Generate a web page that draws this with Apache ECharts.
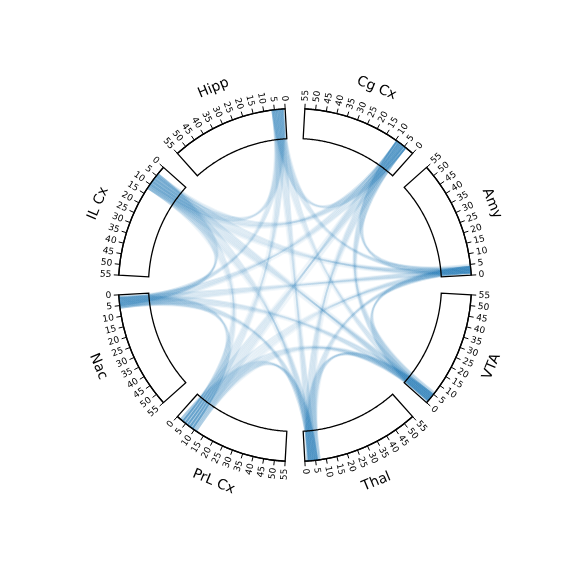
<!DOCTYPE html>
<html><head><meta charset="utf-8">
<script src="https://cdn.jsdelivr.net/npm/echarts@6/dist/echarts.min.js"></script>
<style>html,body{margin:0;padding:0;background:#fff}#c{width:576px;height:576px}</style>
</head><body><div id="c"></div>
<script>
// ---- data ----
const regions = ['Hipp', 'IL Cx', 'Nac', 'PrL Cx', 'Thal', 'VTA', 'Amy', 'Cg Cx'];
const hubStart = [1, 4, 1, 2, 1, 0.5, 0.5, 3];
const hubEnd   = [6, 12, 6, 11, 7, 6, 5, 11];
const tickValues = [0, 5, 10, 15, 20, 25, 30, 35, 40, 45, 50, 55];
const linkSource = [0,0,0,0,0,0,0, 1,1,1,1,1,1, 2,2,2,2,2, 3,3,3,3, 4,4,4, 5,5, 6];
const linkTarget = [1,2,3,4,5,6,7, 2,3,4,5,6,7, 3,4,5,6,7, 4,5,6,7, 5,6,7, 6,7, 7];
const linkWeight = [4,4,5,5,4,4,4, 5,5,6,7,6,6, 5,5,5,5,5, 6,6,5,7, 6,5,6, 5,6, 5];

// ---- layout / style ----
const CX = 295, CY = 285, R_IN = 146.5, R_OUT = 176.5, R_LAB = 184, R_NAME = 213;
const GAP = 3.2, SPAN = 45 - 2 * GAP;
const FONT = 'DejaVu Sans';

const chart = echarts.init(document.getElementById('c'), null, {renderer: 'canvas'});

const polar = [], angleAxis = [], radiusAxis = [], series = [];

// links (drawn first, below the blocks)
series.push({
  type: 'custom', coordinateSystem: 'none', silent: true, animation: false, z: 1,
  data: linkSource.map((s, i) => [i]),
  renderItem: (params, api) => {
    const i = api.value(0);
    const s = linkSource[i], t = linkTarget[i], w = linkWeight[i] * 2;
    const c = chart.convertToPixel({polarIndex: s}, [0, 0]);
    const children = [];
    for (let m = 0; m < w; m++) {
      const f = m / (w - 1);
      const g = (m % 2 === 0) ? f : 1 - f;
      const ps = hubStart[s] + (hubEnd[s] - hubStart[s]) * f;
      const pt = hubStart[t] + (hubEnd[t] - hubStart[t]) * (0.15 + 0.7 * g);
      const a = chart.convertToPixel({polarIndex: s}, [R_OUT, ps]);
      const b = chart.convertToPixel({polarIndex: t}, [R_OUT, pt]);
      const grad = new echarts.graphic.LinearGradient(a[0], a[1], b[0], b[1], [
        {offset: 0, color: 'rgba(31,119,180,0.11)'},
        {offset: 0.25, color: 'rgba(31,119,180,0.07)'},
        {offset: 0.5, color: 'rgba(31,119,180,0.045)'},
        {offset: 0.75, color: 'rgba(31,119,180,0.07)'},
        {offset: 1, color: 'rgba(31,119,180,0.11)'}
      ], true);
      children.push({
        type: 'bezierCurve',
        shape: {x1: a[0], y1: a[1], x2: b[0], y2: b[1], cpx1: c[0], cpy1: c[1]},
        style: {stroke: grad, lineWidth: 1.8, fill: null}
      });
    }
    return {type: 'group', children};
  }
});

regions.forEach((name, k) => {
  const start = (90 + GAP + 45 * k) % 360;
  polar.push({center: [CX, CY], radius: [0, R_OUT]});
  angleAxis.push({
    polarIndex: k, type: 'value', min: 0, max: 55, interval: 5,
    startAngle: start, endAngle: start + SPAN, clockwise: false,
    axisLine: {show: true, lineStyle: {color: '#000', width: 1.3}},
    axisTick: {show: true, length: 5, lineStyle: {color: '#000', width: 1}},
    axisLabel: {show: false}, splitLine: {show: false}, splitArea: {show: false}
  });
  radiusAxis.push({
    polarIndex: k, type: 'value', min: 0, max: R_OUT, show: false,
    axisLine: {show: false}, axisTick: {show: false}, axisLabel: {show: false},
    splitLine: {show: false}
  });

  // block outline
  series.push({
    type: 'custom', coordinateSystem: 'polar', polarIndex: k, silent: true, animation: false, z: 3,
    data: [[R_OUT, 0]],
    renderItem: (params, api) => {
      const pts = [];
      for (let v = 0; v <= 55; v += 0.5) pts.push(api.coord([R_OUT, v]));
      for (let v = 55; v >= 0; v -= 0.5) pts.push(api.coord([R_IN, v]));
      return {type: 'polygon', shape: {points: pts}, style: {fill: null, stroke: '#000', lineWidth: 1.3}};
    }
  });

  // tick labels
  series.push({
    type: 'custom', coordinateSystem: 'polar', polarIndex: k, silent: true, animation: false, z: 4,
    data: tickValues.map(v => [R_LAB, v]),
    renderItem: (params, api) => {
      const p = api.coord([api.value(0), api.value(1)]);
      const cs = params.coordSys;
      const ang = Math.atan2(cs.cy - p[1], p[0] - cs.cx);
      const right = Math.cos(ang) >= 0;
      return {
        type: 'text', x: p[0], y: p[1], rotation: right ? ang : ang - Math.PI,
        style: {text: String(api.value(1)), fontSize: 9, fontFamily: FONT, fill: '#000',
                align: right ? 'left' : 'right', verticalAlign: 'middle'}
      };
    }
  });

  // region name
  series.push({
    type: 'custom', coordinateSystem: 'polar', polarIndex: k, silent: true, animation: false, z: 4,
    data: [[R_NAME, 27.5]],
    renderItem: (params, api) => {
      const p = api.coord([api.value(0), api.value(1)]);
      const cs = params.coordSys;
      const ang = Math.atan2(cs.cy - p[1], p[0] - cs.cx);
      const rot = Math.sin(ang) >= 0 ? ang - Math.PI / 2 : ang + Math.PI / 2;
      return {
        type: 'text', x: p[0], y: p[1], rotation: rot,
        style: {text: name, fontSize: 14, fontFamily: FONT, fill: '#000',
                align: 'center', verticalAlign: 'middle'}
      };
    }
  });
});

chart.setOption({
  animation: false,
  backgroundColor: '#fff',
  polar, angleAxis, radiusAxis, series
});
</script>
</body></html>
